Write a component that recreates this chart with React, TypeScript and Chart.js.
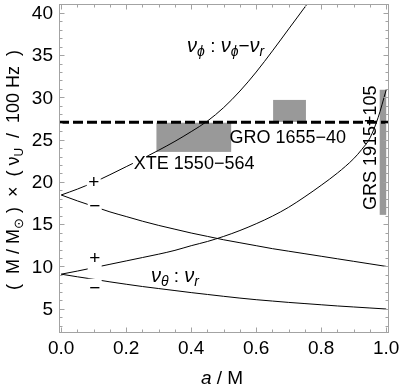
import React, { useEffect, useRef } from "react";
import { Chart, registerables } from "chart.js";

Chart.register(...registerables);

// ---------- data ----------
const spinUpper = [0, 0.05, 0.1, 0.15, 0.2, 0.25, 0.3, 0.35, 0.4, 0.45, 0.5, 0.55, 0.6, 0.65, 0.7, 0.75, 0.8];
const nuPhiPlus = [18.45, 19.15, 19.95, 20.85, 21.8, 22.75, 23.75, 24.8, 25.95, 27.2, 28.8, 30.75, 33.0, 35.5, 38.1, 40.7, 43.4];

const spinGrid = [0, 0.05, 0.1, 0.15, 0.2, 0.25, 0.3, 0.35, 0.4, 0.45, 0.5, 0.55, 0.6, 0.65, 0.7, 0.75, 0.8, 0.85, 0.9, 0.95, 1.0];
const nuPhiMinus = [18.45, 17.75, 17.1, 16.45, 15.9, 15.35, 14.85, 14.4, 13.95, 13.55, 13.15, 12.8, 12.45, 12.1, 11.8, 11.5, 11.2, 10.9, 10.6, 10.3, 10.0];
const nuThetaMinus = [9.08, 8.77, 8.48, 8.17, 7.89, 7.62, 7.38, 7.14, 6.9, 6.68, 6.46, 6.25, 6.06, 5.9, 5.74, 5.6, 5.46, 5.32, 5.2, 5.08, 4.96];

const spinTheta = [0, 0.05, 0.1, 0.15, 0.2, 0.25, 0.3, 0.35, 0.4, 0.45, 0.5, 0.55, 0.6, 0.65, 0.7, 0.75, 0.8, 0.85, 0.9, 0.925, 0.95, 0.975, 1.0];
const nuThetaPlus = [9.08, 9.45, 9.85, 10.25, 10.65, 11.05, 11.45, 11.9, 12.45, 12.95, 13.55, 14.25, 15.05, 15.95, 17.0, 18.25, 19.6, 21.05, 22.75, 23.85, 25.2, 27.6, 30.9];

const sourceNames = ["XTE 1550\u2212564", "GRO 1655\u221240", "GRS 1915+105"];
const sourceSpinMin = [0.293, 0.652, 0.98];
const sourceSpinMax = [0.523, 0.753, 1.0];
const sourceNuMin = [23.55, 27.1, 16.1];
const sourceNuMax = [27.0, 29.7, 30.9];

const dashedLevel = [27.05];

const xMajorTicks = [0, 0.2, 0.4, 0.6, 0.8, 1.0];
const xTickLabels = ["0.0", "0.2", "0.4", "0.6", "0.8", "1.0"];
const yMajorTicks = [5, 10, 15, 20, 25, 30, 35, 40];
const yTickLabels = ["5", "10", "15", "20", "25", "30", "35", "40"];

// ---------- layout / style ----------
const X_MIN = -0.0068;
const X_MAX = 1.0086;
const Y_MIN = 2.12;
const Y_MAX = 41.05;
const FONT = "'Liberation Sans', Arial, sans-serif";
const FRAME = "#a3a3a3";
const BOX = "#999999";

type Run = { t: string; size: number; italic?: boolean; dy?: number };

function runFont(r: Run) {
  return `${r.italic ? "italic " : ""}${r.size}px ${FONT}`;
}

function drawRuns(ctx: CanvasRenderingContext2D, runs: Run[], cx: number, baseline: number) {
  let total = 0;
  for (const r of runs) {
    ctx.font = runFont(r);
    total += ctx.measureText(r.t).width;
  }
  let x = cx - total / 2;
  ctx.textAlign = "left";
  ctx.textBaseline = "alphabetic";
  for (const r of runs) {
    ctx.font = runFont(r);
    ctx.fillText(r.t, x, baseline + (r.dy || 0));
    x += ctx.measureText(r.t).width;
  }
}

const framePlugin = {
  id: "framePlugin",
  beforeDatasetsDraw(chart: any) {
    const { ctx } = chart;
    const xs = chart.scales.x;
    const ys = chart.scales.y;
    ctx.save();
    ctx.fillStyle = BOX;
    for (let i = 0; i < sourceNames.length; i++) {
      const x0 = xs.getPixelForValue(sourceSpinMin[i]);
      const x1 = xs.getPixelForValue(sourceSpinMax[i]);
      const y0 = ys.getPixelForValue(sourceNuMax[i]);
      const y1 = ys.getPixelForValue(sourceNuMin[i]);
      ctx.fillRect(x0, y0, x1 - x0, y1 - y0);
    }
    ctx.restore();
  },
  afterDatasetsDraw(chart: any) {
    const { ctx, chartArea } = chart;
    const xs = chart.scales.x;
    const ys = chart.scales.y;
    ctx.save();
    // dashed reference line
    ctx.strokeStyle = "#000";
    ctx.lineWidth = 3;
    ctx.setLineDash([10, 4]);
    const yd = ys.getPixelForValue(dashedLevel[0]);
    ctx.beginPath();
    ctx.moveTo(chartArea.left, yd);
    ctx.lineTo(chartArea.right, yd);
    ctx.stroke();
    ctx.setLineDash([]);

    // +/- labels with white background
    const signs = [
      { s: "+", a: 0.1, v: 19.95 },
      { s: "\u2212", a: 0.103, v: 17.06 },
      { s: "+", a: 0.103, v: 10.85 },
      { s: "\u2212", a: 0.103, v: 7.36 },
    ];
    for (const g of signs) {
      const px = xs.getPixelForValue(g.a);
      const py = ys.getPixelForValue(g.v);
      ctx.fillStyle = "#fff";
      ctx.fillRect(px - 7, py - 10, 14, 21);
      ctx.fillStyle = "#000";
      ctx.font = `19px ${FONT}`;
      ctx.textAlign = "center";
      ctx.textBaseline = "middle";
      ctx.fillText(g.s, px, py);
    }

    // source labels
    ctx.fillStyle = "#000";
    ctx.font = `18px ${FONT}`;
    ctx.textAlign = "center";
    ctx.textBaseline = "middle";
    {
      const px = xs.getPixelForValue(0.409);
      const py = ys.getPixelForValue(22.26);
      const w = ctx.measureText(sourceNames[0]).width;
      ctx.fillStyle = "#fff";
      ctx.fillRect(px - w / 2 - 1, py - 7, w + 2, 15);
      ctx.fillStyle = "#000";
      ctx.fillText(sourceNames[0], px, py + 1);
    }
    ctx.fillText(sourceNames[1], xs.getPixelForValue(0.697), ys.getPixelForValue(25.28) + 1);
    {
      const px = xs.getPixelForValue(0.951);
      const py = ys.getPixelForValue(24.04);
      ctx.save();
      ctx.translate(px, py);
      ctx.rotate(-Math.PI / 2);
      ctx.fillText(sourceNames[2], 0, 1);
      ctx.restore();
    }

    // curve labels
    drawRuns(
      ctx,
      [
        { t: "\u03bd", size: 20, italic: true },
        { t: "\u03d5", size: 14, italic: true, dy: 4 },
        { t: " : ", size: 19 },
        { t: "\u03bd", size: 20, italic: true },
        { t: "\u03d5", size: 14, italic: true, dy: 4 },
        { t: "\u2212", size: 19 },
        { t: "\u03bd", size: 20, italic: true },
        { t: "r", size: 14, italic: true, dy: 4 },
      ],
      xs.getPixelForValue(0.506),
      ys.getPixelForValue(36.0) + 5
    );
    drawRuns(
      ctx,
      [
        { t: "\u03bd", size: 20, italic: true },
        { t: "\u03b8", size: 14, italic: true, dy: 4 },
        { t: " : ", size: 19 },
        { t: "\u03bd", size: 20, italic: true },
        { t: "r", size: 14, italic: true, dy: 4 },
      ],
      xs.getPixelForValue(0.35),
      ys.getPixelForValue(8.78) + 5
    );
    ctx.restore();
  },
  afterDraw(chart: any) {
    const { ctx, chartArea } = chart;
    const xs = chart.scales.x;
    const ys = chart.scales.y;
    const L = chartArea.left + 0.5;
    const R = chartArea.right - 0.5;
    const T = chartArea.top + 0.5;
    const B = chartArea.bottom - 0.5;
    ctx.save();
    ctx.strokeStyle = FRAME;
    ctx.lineWidth = 1;
    ctx.strokeRect(L, T, R - L, B - T);
    ctx.beginPath();
    // x ticks (bottom and top), minor every 0.05
    for (let k = 0; k <= 20; k++) {
      const v = k * 0.05;
      const len = k % 4 === 0 ? 5 : 3;
      const px = Math.round(xs.getPixelForValue(v)) + 0.5;
      ctx.moveTo(px, B);
      ctx.lineTo(px, B - len);
      ctx.moveTo(px, T);
      ctx.lineTo(px, T + len);
    }
    // y ticks (left and right), minor every 1
    for (let v = 3; v <= 41; v++) {
      if (v > Y_MAX) break;
      const len = v % 5 === 0 ? 5 : 3;
      const py = Math.round(ys.getPixelForValue(v)) + 0.5;
      ctx.moveTo(L, py);
      ctx.lineTo(L + len, py);
      ctx.moveTo(R, py);
      ctx.lineTo(R - len, py);
    }
    ctx.stroke();

    // tick labels
    ctx.fillStyle = "#000";
    ctx.font = `19px ${FONT}`;
    ctx.textAlign = "center";
    ctx.textBaseline = "middle";
    xMajorTicks.forEach((v, i) => {
      ctx.fillText(xTickLabels[i], xs.getPixelForValue(v), chartArea.bottom + 16);
    });
    ctx.textAlign = "right";
    yMajorTicks.forEach((v, i) => {
      ctx.fillText(yTickLabels[i], chartArea.left - 6, ys.getPixelForValue(v) + 1);
    });

    // axis titles
    drawRuns(
      ctx,
      [
        { t: "a", size: 19, italic: true },
        { t: " / M", size: 19 },
      ],
      222,
      384
    );
    ctx.save();
    ctx.translate(19, 170);
    ctx.rotate(-Math.PI / 2);
    drawRuns(
      ctx,
      [
        { t: "(  M / M", size: 18 },
        { t: "\u2299", size: 13, dy: 4 },
        { t: " )  \u00d7  ( ", size: 18 },
        { t: "\u03bd", size: 18 },
        { t: "U", size: 12, dy: 4 },
        { t: "  /  100 Hz  )", size: 18 },
      ],
      0,
      0
    );
    ctx.restore();
    ctx.restore();
  },
};

export default function App() {
  const canvasRef = useRef<HTMLCanvasElement | null>(null);

  useEffect(() => {
    if (!canvasRef.current) return;
    const line = (xs: number[], ys: number[]) => ({
      data: xs.map((x, i) => ({ x, y: ys[i] })),
      showLine: true,
      borderColor: "#000",
      borderWidth: 1,
      pointRadius: 0,
      fill: false,
      cubicInterpolationMode: "monotone" as const,
    });
    const chart = new Chart(canvasRef.current, {
      type: "scatter",
      data: {
        datasets: [
          line(spinUpper, nuPhiPlus),
          line(spinGrid, nuPhiMinus),
          line(spinTheta, nuThetaPlus),
          line(spinGrid, nuThetaMinus),
        ],
      },
      options: {
        responsive: false,
        animation: false,
        layout: { padding: { left: 59, right: 11, top: 4, bottom: 58 } },
        scales: {
          x: { type: "linear", min: X_MIN, max: X_MAX, display: false },
          y: { type: "linear", min: Y_MIN, max: Y_MAX, display: false },
        },
        plugins: { legend: { display: false }, tooltip: { enabled: false } },
        events: [],
      },
      plugins: [framePlugin],
    });
    return () => chart.destroy();
  }, []);

  return (
    <div style={{ position: "absolute", left: 0, top: 0, width: 400, height: 391, background: "#fff" }}>
      <canvas ref={canvasRef} width={400} height={391} style={{ width: 400, height: 391, display: "block" }} />
    </div>
  );
}
